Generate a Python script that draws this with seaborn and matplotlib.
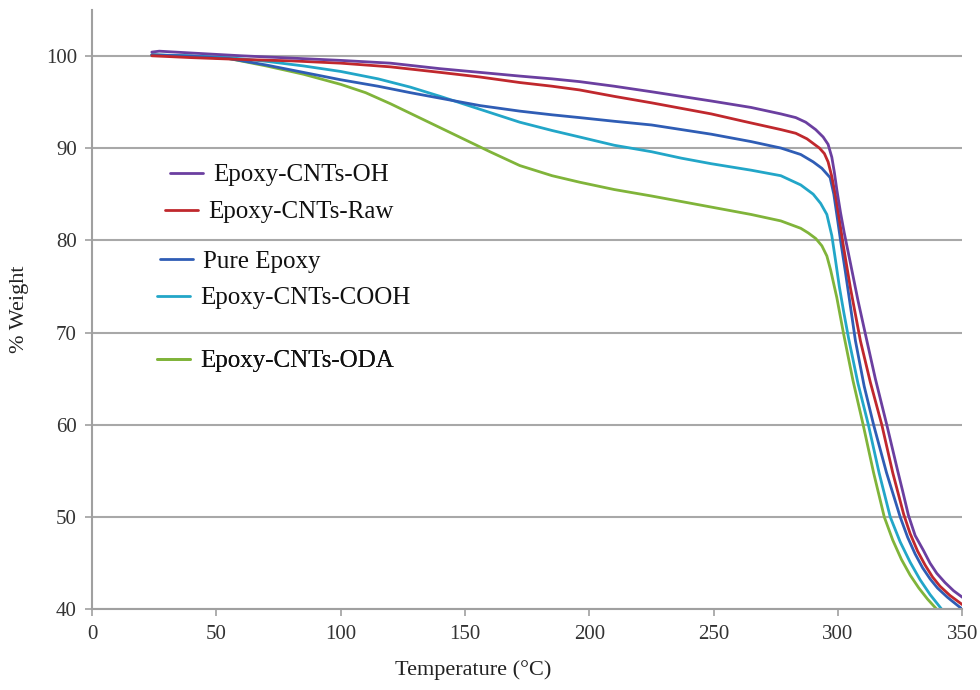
#Import libraries
import pandas as pd
import matplotlib.pyplot as plt
import seaborn as sns

#TGA curves (temperature in C, weight in %)
oh_temp = [24, 27, 40, 60, 80, 100, 120, 140, 156, 172, 185, 196, 210, 225, 237, 249, 265, 277, 283,
           287, 291, 294, 296, 297.5, 298.5, 299.5, 301, 302.5, 305, 308, 311.6, 315, 319.6, 324, 326,
           328.3, 331, 334.3, 337, 339.7, 343, 346.5, 350]
oh_wt = [100.4, 100.5, 100.3, 100.0, 99.75, 99.5, 99.2, 98.6, 98.2, 97.8, 97.5, 97.2, 96.7, 96.1, 95.6, 95.1, 94.4, 93.7, 93.3,
         92.8, 92.0, 91.2, 90.4, 89.0, 87.4, 85.5, 83.0, 80.8, 77.5, 73.5, 69.1, 65.0, 60.0, 55.0, 52.8,
         50.2, 48.0, 46.4, 45.0, 43.9, 42.9, 42.0, 41.3]

raw_temp = [24, 40, 60, 80, 100, 120, 140, 156, 172, 185, 196, 210, 225, 237, 249, 262, 277, 283,
            287.5, 290, 292.5, 294.5, 296, 297.5, 299, 300.5, 302.2, 305, 309, 313, 317.6, 322, 326.4,
            329, 332, 335, 338, 341, 345, 350]
raw_wt = [100.0, 99.8, 99.6, 99.45, 99.2, 98.8, 98.2, 97.7, 97.1, 96.7, 96.3, 95.6, 94.9, 94.3, 93.7, 92.9, 92.0, 91.6,
          91.0, 90.5, 90.0, 89.4, 88.5, 86.9, 84.8, 82.3, 79.3, 74.8, 69.1, 64.6, 60.0, 54.8, 50.3,
          48.2, 46.3, 44.8, 43.5, 42.5, 41.5, 40.5]

pure_temp = [24, 40, 55, 70, 85, 100, 115, 128, 140, 156, 172, 185, 196, 210, 225, 237, 249, 265, 277,
             285, 290, 293.5, 296.8, 298.3, 299.5, 301, 303, 307, 310.5, 314.3, 319.5, 325, 328, 331,
             334, 337, 340, 344, 350]
pure_wt = [100.1, 99.95, 99.7, 99.0, 98.2, 97.4, 96.7, 96.0, 95.4, 94.6, 94.0, 93.6, 93.3, 92.9, 92.5, 92.0, 91.5, 90.7, 90.0,
           89.3, 88.5, 87.8, 86.8, 85.0, 82.8, 80.0, 76.5, 69.1, 64.2, 60.0, 54.8, 50.0, 47.8, 46.0,
           44.5, 43.3, 42.3, 41.3, 40.0]

cooh_temp = [24, 40, 55, 70, 85, 100, 115, 128, 140, 156, 172, 185, 196, 210, 225, 237, 249, 265, 277,
             285, 290, 293, 295.5, 297.5, 299, 300.5, 302.3, 304.3, 308, 312.2, 316.5, 321, 325, 329,
             333, 337, 341.7]
cooh_wt = [100.1, 100.0, 99.8, 99.4, 98.9, 98.3, 97.5, 96.6, 95.6, 94.2, 92.8, 91.9, 91.2, 90.3, 89.6, 88.9, 88.3, 87.6, 87.0,
           86.0, 85.0, 84.0, 82.8, 80.5, 77.8, 75.0, 72.2, 69.3, 64.5, 60.0, 54.8, 50.0, 47.3, 45.1,
           43.2, 41.6, 40.0]

oda_temp = [24, 40, 55, 70, 85, 100, 110, 120, 130, 140, 150, 160, 172, 185, 196, 210, 225, 237, 249, 265, 277,
            285, 288, 291, 293.5, 295.5, 297, 299.5, 302.2, 306, 310.1, 314.3, 318.6, 322, 325.5, 329,
            332.5, 336, 339.7]
oda_wt = [100.1, 99.95, 99.7, 98.9, 98.0, 96.9, 96.0, 94.8, 93.5, 92.2, 90.9, 89.6, 88.1, 87.0, 86.3, 85.5, 84.8, 84.2, 83.6, 82.8, 82.1,
          81.3, 80.8, 80.2, 79.4, 78.3, 76.8, 73.8, 69.9, 64.8, 60.0, 54.8, 50.0, 47.5, 45.4, 43.7,
          42.3, 41.1, 40.0]

labels = ['Epoxy-CNTs-OH', 'Epoxy-CNTs-Raw', 'Pure Epoxy', 'Epoxy-CNTs-COOH', 'Epoxy-CNTs-ODA']
colors = ['#6B3FA0', '#C0282D', '#2F5DB5', '#22A6C8', '#80B43A']
series = [(oh_temp, oh_wt), (raw_temp, raw_wt), (pure_temp, pure_wt), (cooh_temp, cooh_wt), (oda_temp, oda_wt)]

sns.set_theme(style='white')
plt.rcParams['font.family'] = ['Liberation Serif', 'DejaVu Serif']

fig = plt.figure(figsize=(9.8, 6.9), dpi=100)
ax = fig.add_axes([0.094, 0.117, 0.888, 0.869])

#draw from last to first so purple ends up on top
handles = {}
for (t, w), lab, col in reversed(list(zip(series, labels, colors))):
    df = pd.DataFrame({'temp': t, 'wt': w})
    sns.lineplot(data=df, x='temp', y='wt', color=col, linewidth=2.0, ax=ax, sort=False)
    handles[lab] = ax.get_lines()[-1]

ax.set_xlim(0, 350)
ax.set_ylim(40, 105)
ax.set_xticks(range(0, 351, 50))
ax.set_yticks(range(40, 101, 10))
ax.yaxis.grid(True, color='#a8a8a8', linewidth=1.5)
ax.xaxis.grid(False)
for s in ['top', 'right']:
    ax.spines[s].set_visible(False)
for s in ['left', 'bottom']:
    ax.spines[s].set_color('#a0a0a0')
    ax.spines[s].set_linewidth(1.5)
ax.tick_params(axis='both', which='major', length=5, width=1.2, color='#a0a0a0',
               labelsize=15, labelcolor='#333333', bottom=True, left=True, pad=6)

ax.set_xlabel('Temperature (°C)', fontsize=16, color='#222222', labelpad=10)
ax.xaxis.set_label_coords((473 - 92) / 870, -0.085)
ax.set_ylabel('% Weight', fontsize=16, color='#222222', labelpad=12)

#legend entries sit at uneven spacing, one small legend per entry
leg_pos = [(170, 175), (165, 212), (160, 262), (157, 298), (157, 361)]
for lab, (px, py) in zip(labels, leg_pos):
    leg = ax.legend([handles[lab]], [lab], loc='center left',
                    bbox_to_anchor=(px / 980, 1 - py / 690), bbox_transform=fig.transFigure,
                    frameon=False, borderpad=0, borderaxespad=0, handlelength=1.32,
                    handletextpad=0.4, fontsize=18)
    for txt in leg.get_texts():
        txt.set_color('#111111')
    ax.add_artist(leg)

fig.savefig('out.png', dpi=100)
